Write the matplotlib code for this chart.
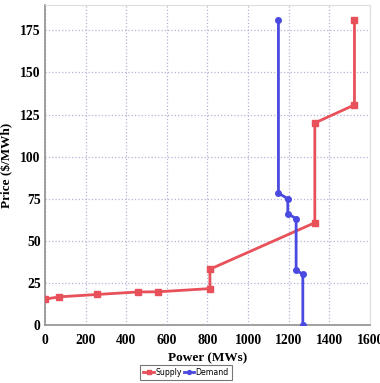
#!/usr/bin/env python

import matplotlib.pyplot as plt

# supply curve
supply_mw = [0, 70, 255, 458, 557, 812, 812, 1328, 1328, 1523, 1523]
supply_price = [15.4, 16.8, 18.2, 19.7, 19.8, 21.7, 33.2, 60.8, 120.0, 130.7, 181.0]

# demand curve
demand_mw = [1149, 1149, 1195, 1195, 1236, 1236, 1269, 1269]
demand_price = [181.0, 78.4, 75.0, 66.2, 63.2, 32.6, 30.2, 0.0]

x_ticks = [0, 200, 400, 600, 800, 1000, 1200, 1400, 1600]
y_ticks = [0, 25, 50, 75, 100, 125, 150, 175]

serif = {"family": "Liberation Serif", "weight": "bold"}

fig = plt.figure(figsize=(3.8, 3.83), dpi=100)
ax = fig.add_axes([0.118, 0.151, 0.856, 0.836])

ax.plot(supply_mw, supply_price, color="#e8505a", lw=2, marker="s", ms=4,
        label="Supply", zorder=3)
ax.plot(demand_mw, demand_price, color="#4a4ae0", lw=2, marker="o", ms=4,
        label="Demand", zorder=3)

ax.set_xlim(0, 1600)
ax.set_ylim(0, 190)
ax.set_xticks(x_ticks)
ax.set_yticks(y_ticks)
ax.grid(True, color="#b4b4d8", ls=":", lw=0.9)
ax.set_axisbelow(True)

for lbl in ax.get_xticklabels() + ax.get_yticklabels():
    lbl.set_fontproperties(serif)
    lbl.set_fontsize(9.8)
ax.tick_params(length=0)
ax.tick_params(axis="x", pad=6)
ax.tick_params(axis="y", pad=3)

for side in ["left", "bottom"]:
    ax.spines[side].set_color("#909090")
    ax.spines[side].set_linewidth(1.2)
for side in ["top", "right"]:
    ax.spines[side].set_color("#dddddd")

ax.set_xlabel("Power (MWs)", fontsize=9.5, labelpad=4, **serif)
ax.set_ylabel("Price ($/MWh)", fontsize=9.5, labelpad=5, **serif)

leg = ax.legend(loc="upper center", bbox_to_anchor=(0.49, 0.057),
                bbox_transform=fig.transFigure, ncol=2,
                fontsize=5.6, frameon=True, fancybox=False, handlelength=1.3,
                handletextpad=0.2, columnspacing=0.3, borderpad=0.4,
                markerscale=0.7)
leg.get_frame().set_edgecolor("#555555")
leg.get_frame().set_linewidth(0.8)

plt.savefig("out.png", dpi=100)
